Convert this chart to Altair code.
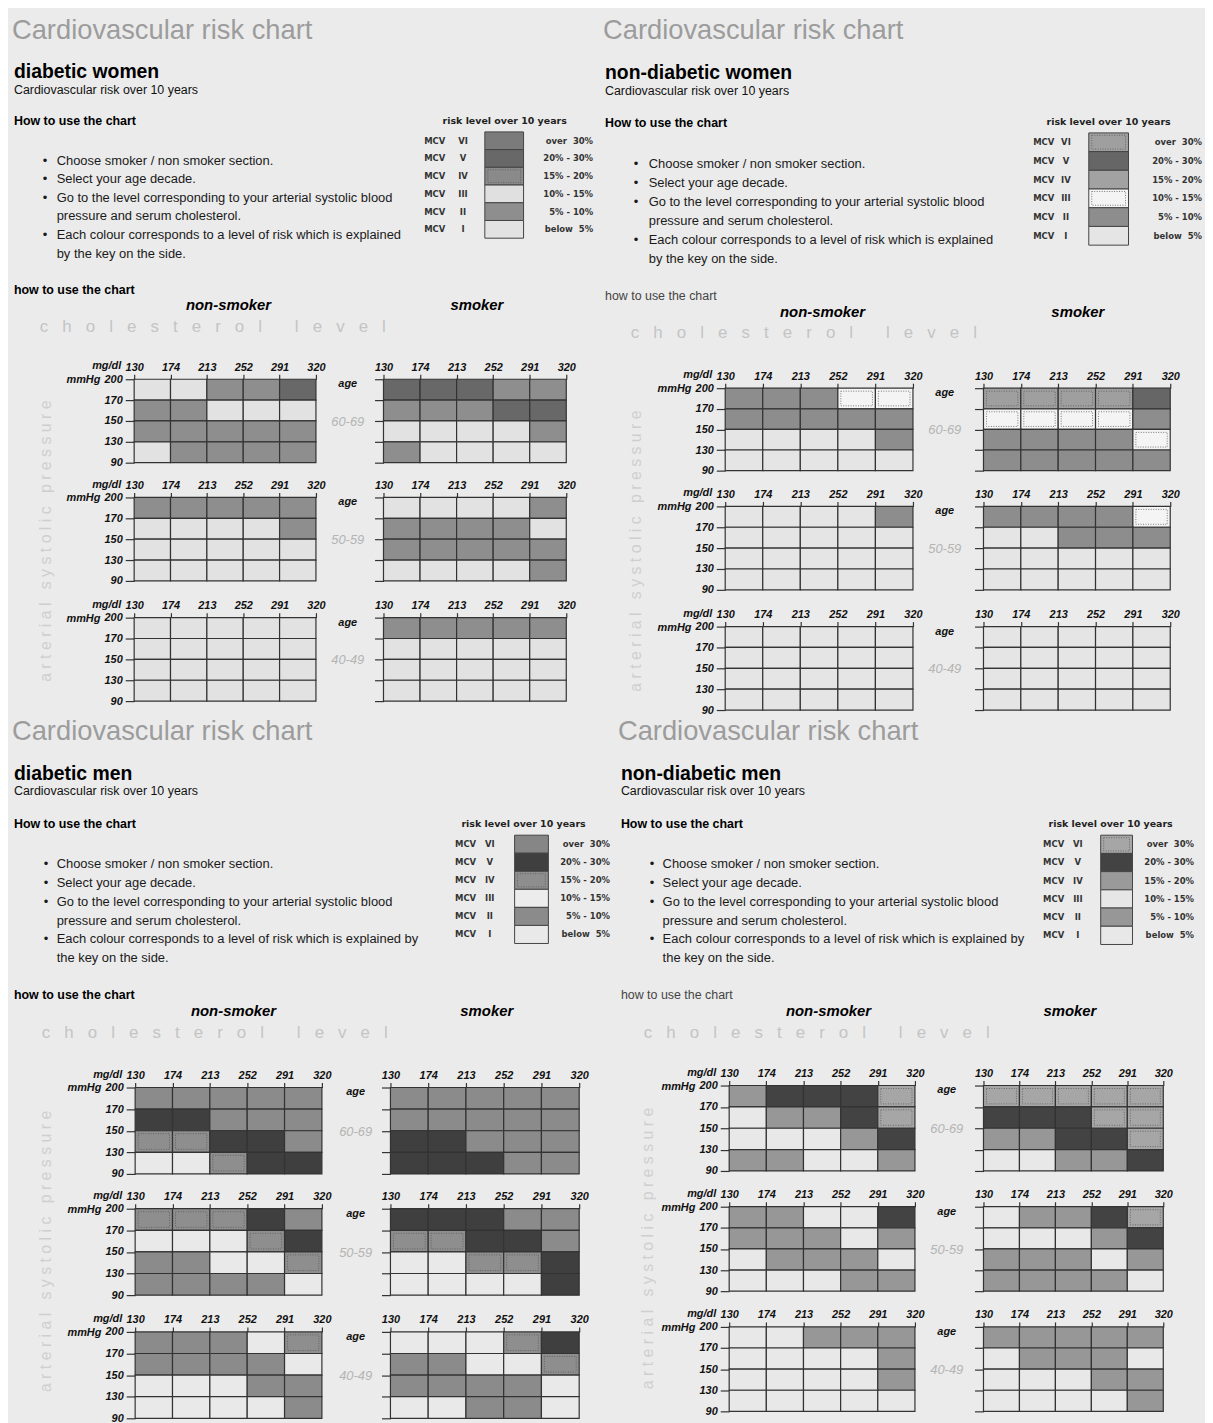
import json
import altair as alt
import pandas as pd

M = 8  # page margin of the html page
NB = "\u00a0"

# ---------------- data ----------------
CHOL = ["130", "174", "213", "252", "291", "320"]
BP = ["200", "170", "150", "130", "90"]
AGES = ["60-69", "50-59", "40-49"]
MCV = ["VI", "V", "IV", "III", "II", "I"]
MCV_LEVEL = [6, 5, 4, 3, 2, 1]
RISK_RANGE = ["over  30%", "20% - 30%", "15% - 20%", "10% - 15%", "5% - 10%", "below  5%"]
BULLETS_W = ["Choose smoker / non smoker section.", "Select your age decade.",
             "Go to the level corresponding to your arterial systolic blood",
             "pressure and serum cholesterol.",
             "Each colour corresponds to a level of risk which is explained",
             "by the key on the side."]
BULLETS_M = ["Choose smoker / non smoker section.", "Select your age decade.",
             "Go to the level corresponding to your arterial systolic blood",
             "pressure and serum cholesterol.",
             "Each colour corresponds to a level of risk which is explained by",
             "the key on the side."]
BULLET_LINES = [0, 1, 2, 4]   # lines that start a new bullet point

# risk level (MCV I..VI = 1..6) per cell; rows 200-170,170-150,150-130,130-90 ; cols 130..320
DW_NONSMOKER = {
    "60-69": [[1, 1, 2, 2, 5], [2, 2, 1, 1, 1], [2, 2, 2, 2, 2], [1, 2, 2, 2, 2]],
    "50-59": [[2, 2, 2, 2, 2], [1, 1, 1, 1, 2], [1, 1, 1, 1, 1], [1, 1, 1, 1, 1]],
    "40-49": [[1, 1, 1, 1, 1], [1, 1, 1, 1, 1], [1, 1, 1, 1, 1], [1, 1, 1, 1, 1]],
}
DW_SMOKER = {
    "60-69": [[5, 5, 5, 2, 2], [2, 2, 2, 5, 5], [1, 1, 1, 1, 2], [2, 1, 1, 1, 1]],
    "50-59": [[1, 1, 1, 1, 2], [2, 2, 2, 2, 1], [2, 2, 2, 2, 2], [1, 1, 1, 1, 2]],
    "40-49": [[2, 2, 2, 2, 2], [1, 1, 1, 1, 1], [1, 1, 1, 1, 1], [1, 1, 1, 1, 1]],
}
NW_NONSMOKER = {
    "60-69": [[2, 2, 2, 3, 3], [2, 2, 2, 2, 2], [1, 1, 1, 1, 2], [1, 1, 1, 1, 1]],
    "50-59": [[1, 1, 1, 1, 2], [1, 1, 1, 1, 1], [1, 1, 1, 1, 1], [1, 1, 1, 1, 1]],
    "40-49": [[1, 1, 1, 1, 1], [1, 1, 1, 1, 1], [1, 1, 1, 1, 1], [1, 1, 1, 1, 1]],
}
NW_SMOKER = {
    "60-69": [[6, 6, 6, 6, 5], [3, 3, 3, 3, 2], [2, 2, 2, 2, 3], [2, 2, 2, 2, 2]],
    "50-59": [[2, 2, 2, 2, 3], [1, 1, 2, 2, 2], [1, 1, 1, 1, 1], [1, 1, 1, 1, 1]],
    "40-49": [[1, 1, 1, 1, 1], [1, 1, 1, 1, 1], [1, 1, 1, 1, 1], [1, 1, 1, 1, 1]],
}
DM_NONSMOKER = {
    "60-69": [[2, 2, 2, 2, 2], [5, 5, 2, 2, 2], [4, 4, 5, 5, 2], [1, 1, 4, 5, 5]],
    "50-59": [[4, 4, 4, 5, 2], [1, 1, 1, 4, 5], [2, 2, 1, 1, 4], [2, 2, 2, 2, 1]],
    "40-49": [[2, 2, 2, 1, 4], [2, 2, 2, 2, 1], [1, 1, 1, 2, 2], [1, 1, 1, 1, 2]],
}
DM_SMOKER = {
    "60-69": [[2, 2, 2, 2, 2], [2, 2, 2, 2, 2], [5, 5, 2, 2, 2], [5, 5, 5, 2, 2]],
    "50-59": [[5, 5, 5, 2, 2], [4, 4, 5, 5, 2], [1, 1, 4, 4, 5], [1, 1, 1, 1, 5]],
    "40-49": [[1, 1, 1, 4, 5], [2, 2, 1, 1, 4], [2, 2, 2, 2, 1], [1, 1, 2, 2, 1]],
}
NM_NONSMOKER = {
    "60-69": [[2, 5, 5, 5, 6], [1, 2, 2, 5, 6], [1, 1, 1, 2, 5], [2, 2, 1, 1, 2]],
    "50-59": [[2, 2, 1, 1, 5], [2, 2, 2, 1, 2], [1, 2, 2, 2, 1], [1, 1, 1, 2, 2]],
    "40-49": [[1, 1, 2, 2, 2], [1, 1, 1, 1, 2], [1, 1, 1, 1, 2], [1, 1, 1, 1, 1]],
}
NM_SMOKER = {
    "60-69": [[6, 6, 6, 6, 6], [5, 5, 5, 6, 6], [2, 2, 5, 5, 6], [1, 1, 2, 2, 5]],
    "50-59": [[1, 2, 2, 5, 6], [1, 1, 1, 2, 5], [2, 2, 2, 1, 2], [2, 2, 2, 2, 1]],
    "40-49": [[2, 2, 2, 2, 2], [1, 2, 2, 2, 1], [1, 1, 1, 2, 2], [1, 1, 1, 1, 2]],
}

# grey used for MCV I..VI in each printed chart
PALETTES = {
    "A": ["#e2e2e2", "#8e8e8e", "#e0e0e0", "#8a8a8a", "#686868", "#7b7b7b"],
    "B": ["#e5e5e5", "#8d8d8d", "#f4f4f4", "#a2a2a2", "#666666", "#9f9f9f"],
    "C": ["#e9e9e9", "#8b8b8b", "#ececec", "#8e8e8e", "#3f3f3f", "#868686"],
    "D": ["#e8e8e8", "#979797", "#e6e6e6", "#9a9a9a", "#434343", "#a6a6a6"],
}
TEXTURED = {"A": [4], "B": [3, 6], "C": [4], "D": [6]}

FONT = "Liberation Sans"
LFONT = "DejaVu Sans"
COLOR_SCALE = alt.Scale(domain=[f"{q}{i + 1}" for q in "ABCD" for i in range(6)],
                        range=[c for q in "ABCD" for c in PALETTES[q]])
ONE = pd.DataFrame({"k": [0]})


def P(v):
    return v - M


def keep_spaces(s):
    return s.replace("  ", NB + NB)


def txt(text, x, y, size, color="#111", weight="normal", style="normal", align="left",
        font=FONT, angle=None, baseline="alphabetic", line_height=None):
    kw = dict(text=text, fontSize=size, color=color, fontWeight=weight, fontStyle=style,
              align=align, font=font, baseline=baseline)
    if angle is not None:
        kw["angle"] = angle
    if line_height is not None:
        kw["lineHeight"] = line_height
    return alt.Chart(ONE).mark_text(**kw).encode(x=alt.value(P(x)), y=alt.value(P(y)))


def grid(cells, q, x0, x1, y0, y1, with_labels):
    recs = [dict(c=c, c2=c + 1, r=r, r2=r + 1, key=f"{q}{lvl}", lvl=lvl)
            for r, row in enumerate(cells) for c, lvl in enumerate(row)]
    df = pd.DataFrame(recs)
    xs = alt.Scale(domain=[0, 5], range=[P(x0), P(x1)], nice=False, zero=False)
    ys = alt.Scale(domain=[0, 4], range=[P(y0), P(y1)], nice=False, zero=False)
    common = dict(title=None, domain=False, grid=False, tickColor="#333333", tickWidth=1.2,
                  labelFlush=False, labelOverlap=False, labelFont=FONT, labelFontStyle="italic",
                  labelFontWeight="bold", labelFontSize=11, labelColor="#111")
    xax = alt.Axis(orient="top", offset=-P(y0), values=list(range(6)),
                   labelExpr=f"{json.dumps(CHOL)}[datum.value]", tickSize=5, labelPadding=2,
                   **common)
    yax = alt.Axis(orient="left", offset=-P(x0), values=list(range(5)),
                   labelExpr=f"{json.dumps(BP)}[datum.value]", tickSize=9, labelPadding=3,
                   labels=with_labels, **common)
    out = [alt.Chart(df).mark_rect(stroke="#333333", strokeWidth=1.2).encode(
        x=alt.X("c:Q", scale=xs, axis=xax), x2="c2:Q",
        y=alt.Y("r:Q", scale=ys, axis=yax), y2="r2:Q",
        color=alt.Color("key:N", scale=COLOR_SCALE, legend=None))]
    tex = df[df["lvl"].isin(TEXTURED[q])]
    if len(tex):
        w = (x1 - x0) / 5 - 6
        h = (y1 - y0) / 4 - 6
        a = h / w
        out.append(alt.Chart(tex).transform_calculate(cx="datum.c + 0.5", cy="datum.r + 0.5")
                   .mark_point(shape=f"M-1,-{a:.3f}H1V{a:.3f}H-1Z", size=w * w, filled=False,
                               stroke="#5a5a5a", strokeWidth=0.8, strokeDash=[1, 1.5], opacity=1)
                   .encode(x=alt.X("cx:Q", scale=xs, axis=None),
                           y=alt.Y("cy:Q", scale=ys, axis=None)))
    return out


def legend(q, cfg):
    bx0, bx1, by0, by1 = cfg["lg_box"]
    df = pd.DataFrame({"i": list(range(6)), "i2": [i + 1 for i in range(6)],
                       "ic": [i + 0.5 for i in range(6)],
                       "key": [f"{q}{l}" for l in MCV_LEVEL], "lvl": MCV_LEVEL,
                       "mcv": ["MCV"] * 6, "rom": MCV,
                       "rng": [keep_spaces(s) for s in RISK_RANGE]})
    ys = alt.Scale(domain=[0, 6], range=[P(by0), P(by1)], nice=False, zero=False)
    out = [alt.Chart(df).mark_rect(stroke="#444444", strokeWidth=1).encode(
        x=alt.value(P(bx0)), x2=alt.value(P(bx1)),
        y=alt.Y("i:Q", scale=ys, axis=None), y2="i2:Q",
        color=alt.Color("key:N", scale=COLOR_SCALE, legend=None))]
    tex = df[df["lvl"].isin(TEXTURED[q])]
    if len(tex):
        w = bx1 - bx0 - 6
        h = (by1 - by0) / 6 - 5
        a = h / w
        out.append(alt.Chart(tex).mark_point(shape=f"M-1,-{a:.3f}H1V{a:.3f}H-1Z", size=w * w,
                                             filled=False, stroke="#5a5a5a", strokeWidth=0.8,
                                             strokeDash=[1, 1.5], opacity=1)
                   .encode(x=alt.value(P((bx0 + bx1) / 2)),
                           y=alt.Y("ic:Q", scale=ys, axis=None)))
    for field, xpos, align in (("mcv", cfg["lg_mcv"], "left"), ("rom", cfg["lg_rom"], "center"),
                               ("rng", cfg["lg_rng"], "right")):
        out.append(alt.Chart(df).mark_text(font=LFONT, fontSize=8.5, fontWeight="bold",
                                           color="#333", align=align, baseline="middle")
                   .encode(x=alt.value(P(xpos)), y=alt.Y("ic:Q", scale=ys, axis=None),
                           text=f"{field}:N"))
    tx, ty = cfg["lg_title"]
    out.append(txt("risk level over 10 years", tx, ty, 9.5, color="#222", weight="bold",
                   align="center", font=LFONT))
    return out


QUADS = [
    dict(q="A", name="diabetic women", ns=DW_NONSMOKER, s=DW_SMOKER, bullets=BULLETS_W,
         how2_bold=True, title=(12, 34), head=(14, 74), sub=(14, 90), how=(14, 121),
         bl_y=161, bl_lh=18.7, bl_dot=43, bl_x=57, how2=(14, 291), ns_cx=230, s_cx=480,
         sm_y=307, chol=(40, 329), vert=(46, 540), gx_ns=(135, 318), gx_s=(386, 570),
         gy=[(377, 461), (496, 580), (617, 701)], age_x=350,
         lg_title=(508, 120), lg_box=(488, 527, 128, 235), lg_mcv=427, lg_rom=466, lg_rng=597),
    dict(q="B", name="non-diabetic women", ns=NW_NONSMOKER, s=NW_SMOKER, bullets=BULLETS_W,
         how2_bold=False, title=(607, 34), head=(609, 75), sub=(609, 91), how=(609, 123),
         bl_y=164, bl_lh=19.2, bl_dot=638, bl_x=653, how2=(609, 297), ns_cx=828, s_cx=1085,
         sm_y=314, chol=(635, 335), vert=(640, 550), gx_ns=(730, 919), gx_s=(990, 1178),
         gy=[(386, 469), (505, 589), (626, 710)], age_x=951,
         lg_title=(1116, 121), lg_box=(1096, 1136, 129, 242), lg_mcv=1040, lg_rom=1073,
         lg_rng=1210),
    dict(q="C", name="diabetic men", ns=DM_NONSMOKER, s=DM_SMOKER, bullets=BULLETS_M,
         how2_bold=True, title=(12, 740), head=(14, 780), sub=(14, 796), how=(14, 829),
         bl_y=869, bl_lh=19, bl_dot=44, bl_x=57, how2=(14, 1001), ns_cx=235, s_cx=490,
         sm_y=1018, chol=(42, 1040), vert=(46, 1255), gx_ns=(136, 324), gx_s=(393, 583),
         gy=[(1090, 1177), (1212, 1299), (1336, 1423)], age_x=358,
         lg_title=(527, 828), lg_box=(518, 552, 836, 945), lg_mcv=458, lg_rom=493, lg_rng=614),
    dict(q="D", name="non-diabetic men", ns=NM_NONSMOKER, s=NM_SMOKER, bullets=BULLETS_M,
         how2_bold=False, title=(622, 740), head=(625, 780), sub=(625, 796), how=(625, 829),
         bl_y=869, bl_lh=19, bl_dot=654, bl_x=667, how2=(625, 1001), ns_cx=834, s_cx=1077,
         sm_y=1018, chol=(648, 1040), vert=(652, 1252), gx_ns=(734, 921), gx_s=(990, 1171),
         gy=[(1088, 1174), (1210, 1295), (1331, 1416)], age_x=953,
         lg_title=(1118, 828), lg_box=(1108, 1140, 836, 946), lg_mcv=1050, lg_rom=1085,
         lg_rng=1202),
]

CHOL_TEXT = (NB * 3).join("cholesterol") + NB * 7 + (NB * 3).join("level")
VERT_TEXT = (NB * 3).join(NB.join(w) for w in ["arterial", "systolic", "pressure"])

layers = []
for cfg in QUADS:
    q = cfg["q"]
    layers.append(txt("Cardiovascular risk chart", *cfg["title"], 27.5, color="#9c9c9c"))
    layers.append(txt(cfg["name"], *cfg["head"], 19.5, color="#000", weight="bold"))
    layers.append(txt("Cardiovascular risk over 10 years", *cfg["sub"], 12.5, color="#111"))
    layers.append(txt("How to use the chart", *cfg["how"], 12.5, color="#000", weight="bold"))
    layers.append(txt(cfg["bullets"], cfg["bl_x"], cfg["bl_y"], 13, color="#1a1a1a",
                      line_height=cfg["bl_lh"]))
    for li in BULLET_LINES:
        layers.append(txt("\u2022", cfg["bl_dot"], cfg["bl_y"] + li * cfg["bl_lh"], 13,
                          color="#1a1a1a"))
    layers.append(txt("how to use the chart", *cfg["how2"], 12.5,
                      color="#000" if cfg["how2_bold"] else "#444",
                      weight="bold" if cfg["how2_bold"] else "normal"))
    layers.append(txt("non-smoker", cfg["ns_cx"], cfg["sm_y"], 15, color="#000", weight="bold",
                      style="italic", align="center"))
    layers.append(txt("smoker", cfg["s_cx"], cfg["sm_y"], 15, color="#000", weight="bold",
                      style="italic", align="center"))
    layers.append(txt(CHOL_TEXT, *cfg["chol"], 17, color="#c4c4c4"))
    layers.append(txt(VERT_TEXT, *cfg["vert"], 16, color="#cfcfcf", angle=270, align="center",
                      baseline="middle"))
    layers += legend(q, cfg)
    for k, age in enumerate(AGES):
        y0, y1 = cfg["gy"][k]
        layers += grid(cfg["ns"][age], q, *cfg["gx_ns"], y0, y1, True)
        layers += grid(cfg["s"][age], q, *cfg["gx_s"], y0, y1, False)
        x0 = cfg["gx_ns"][0]
        layers.append(txt("mg/dl", x0 - 13, y0 - 10, 11, color="#111", weight="bold",
                          style="italic", align="right"))
        layers.append(txt("mmHg", x0 - 34, y0 + 4, 11, color="#111", weight="bold",
                          style="italic", align="right"))
        layers.append(txt("age", cfg["age_x"], y0 + 8, 11, color="#111", weight="bold",
                          style="italic", align="center"))
        layers.append(txt(age, cfg["age_x"], (y0 + y1) / 2 + 5, 13, color="#b4b4b4",
                          style="italic", align="center"))

chart = (alt.layer(*layers)
         .resolve_scale(x="independent", y="independent")
         .properties(width=1213 - M, height=1423 - M, padding=0, background="#ebebeb",
                     autosize=alt.AutoSizeParams(type="none"))
         .configure_view(stroke=None))

chart.save("out.html", embed_options={"renderer": "svg", "actions": False})
